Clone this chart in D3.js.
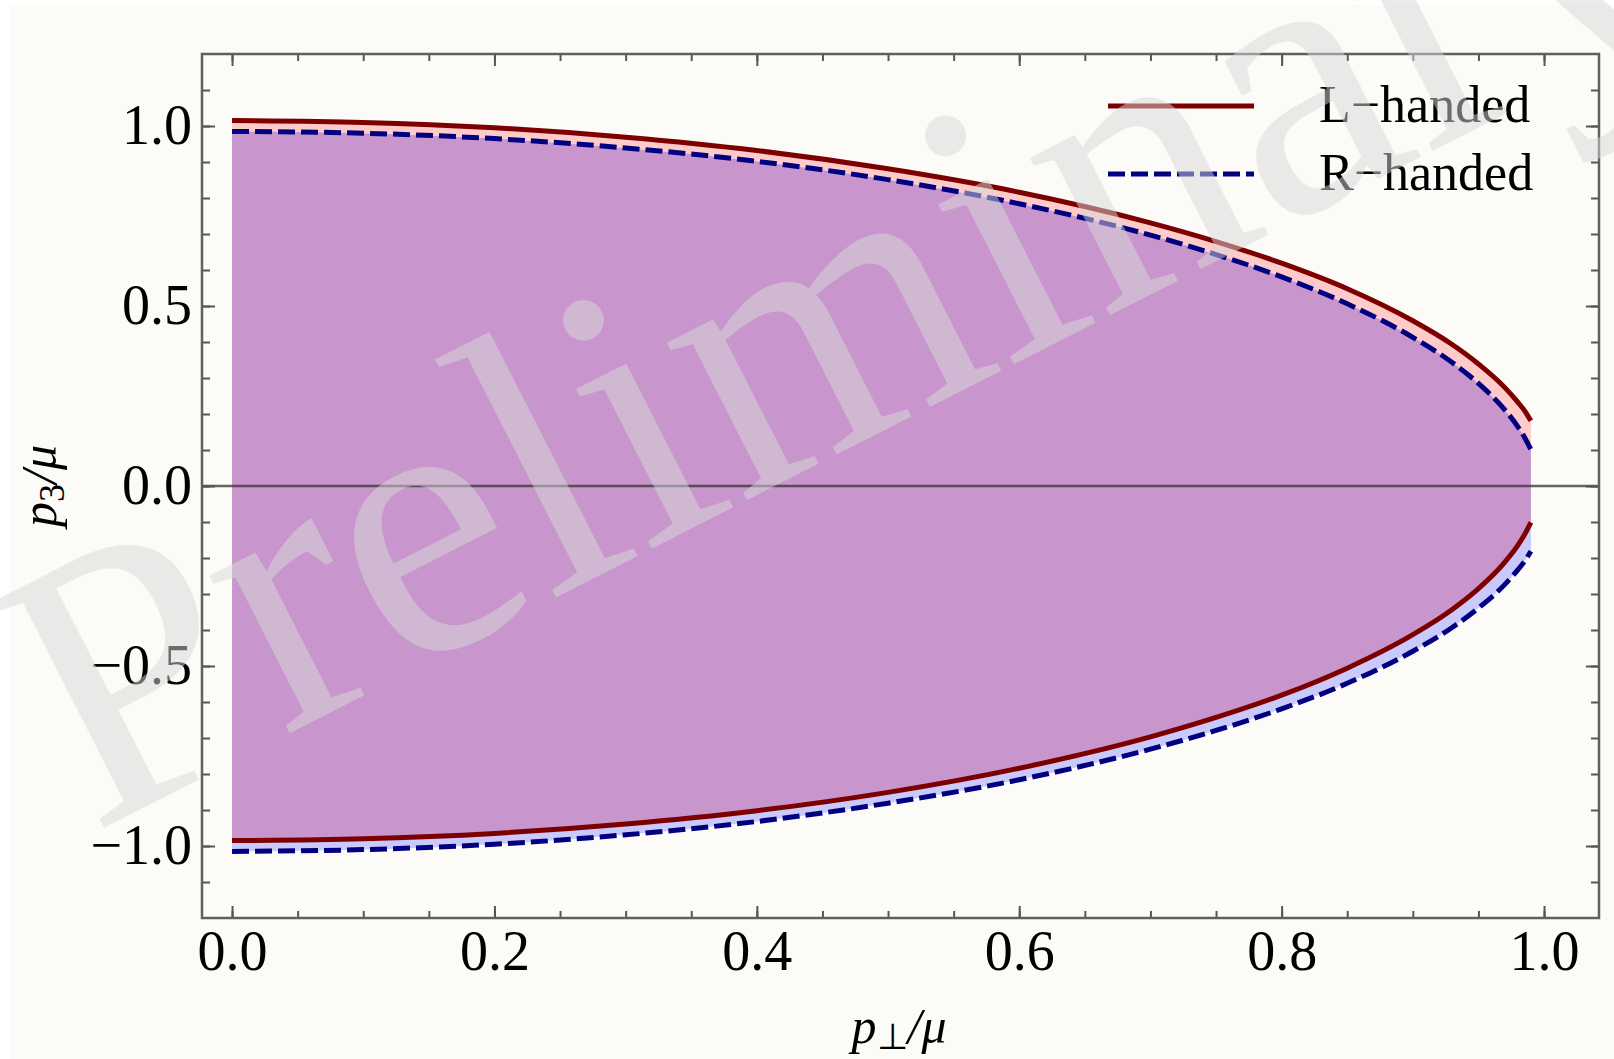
<!DOCTYPE html>
<html>
<head>
<meta charset="utf-8">
<script src="https://cdn.jsdelivr.net/npm/d3@7"></script>
<style>
  body { margin: 0; background: #ffffff; }
  svg { display: block; }
  text { font-family: "Liberation Serif", "Times New Roman", serif; }
</style>
</head>
<body>
<svg id="svg" width="1614" height="1059"></svg>
<script>
// values
const pPerp      = [0, 0.1, 0.2, 0.3, 0.4, 0.5, 0.6, 0.7, 0.75, 0.8, 0.85, 0.9, 0.93, 0.95, 0.97, 0.98, 0.985, 0.99]
const leftUpper  = [1.015, 1.010, 0.995, 0.969, 0.932, 0.881, 0.816, 0.731, 0.679, 0.619, 0.548, 0.459, 0.393, 0.339, 0.274, 0.233, 0.210, 0.181]
const leftLower  = [-0.985, -0.980, -0.965, -0.939, -0.902, -0.851, -0.784, -0.697, -0.643, -0.581, -0.506, -0.413, -0.343, -0.285, -0.212, -0.165, -0.136, -0.101]
const rightUpper = [0.985, 0.980, 0.965, 0.939, 0.902, 0.851, 0.784, 0.697, 0.643, 0.581, 0.506, 0.413, 0.343, 0.285, 0.212, 0.165, 0.136, 0.101]
const rightLower = [-1.015, -1.010, -0.995, -0.969, -0.932, -0.881, -0.816, -0.731, -0.679, -0.619, -0.548, -0.459, -0.393, -0.339, -0.274, -0.233, -0.210, -0.181]

const xMajor = [0, 0.2, 0.4, 0.6, 0.8, 1.0]
const xMinor = d3.range(0, 1.001, 0.05)
const yMajor = [-1.0, -0.5, 0.0, 0.5, 1.0]
const yMinor = d3.range(-1.1, 1.101, 0.1)

const legendNames = ['L\u2212handed', 'R\u2212handed']

let svg = d3.select('#svg')

let plotLeft = 202, plotRight = 1599, plotTop = 54, plotBottom = 918

let x = d3.scaleLinear().domain([-0.0229, 1.0419]).range([plotLeft, plotRight])
let y = d3.scaleLinear().domain([-1.2, 1.2]).range([plotBottom, plotTop])

let rows = pPerp.map((p, i) => ({
  p: p, lu: leftUpper[i], ll: leftLower[i], ru: rightUpper[i], rl: rightLower[i]
}))

svg.append('rect')
  .attr('x', 10).attr('y', 5).attr('width', 1604).attr('height', 1054)
  .attr('fill', '#fdfbf8')

// filled regions
let band = (lo, hi) => d3.area()
  .curve(d3.curveMonotoneX)
  .x(d => x(d.p))
  .y0(d => y(d[lo]))
  .y1(d => y(d[hi]))

svg.append('path').datum(rows).attr('d', band('ru', 'lu')).attr('fill', '#ffcaca')
svg.append('path').datum(rows).attr('d', band('rl', 'll')).attr('fill', '#c9c9fb')
svg.append('path').datum(rows).attr('d', band('ll', 'ru')).attr('fill', '#c896cc')

// zero line
svg.append('line')
  .attr('x1', plotLeft).attr('x2', plotRight)
  .attr('y1', y(0)).attr('y2', y(0))
  .attr('stroke', '#333').attr('stroke-opacity', 0.75).attr('stroke-width', 2.5)

// curves
let line = key => d3.line()
  .curve(d3.curveMonotoneX)
  .x(d => x(d.p))
  .y(d => y(d[key]))

let solidStyle = sel => sel.attr('fill', 'none').attr('stroke', '#7d0000').attr('stroke-width', 5)
let dashStyle = sel => sel.attr('fill', 'none').attr('stroke', '#000080').attr('stroke-width', 5)
  .attr('stroke-dasharray', '17,6')

svg.append('path').datum(rows).attr('d', line('lu')).call(solidStyle)
svg.append('path').datum(rows).attr('d', line('ll')).call(solidStyle)
svg.append('path').datum(rows).attr('d', line('ru')).call(dashStyle)
svg.append('path').datum(rows).attr('d', line('rl')).call(dashStyle)

// axes, ticks pointing inward
let styleAxis = g => {
  g.select('.domain').remove()
  g.selectAll('.tick line').attr('stroke', '#555').attr('stroke-width', 2)
  g.selectAll('text').attr('font-size', 56).attr('fill', '#000')
    .attr('font-family', '"Liberation Serif", serif')
}
let fmt = d3.format('.1f')

svg.append('g').attr('transform', `translate(0,${plotBottom})`)
  .call(d3.axisBottom(x).tickValues(xMinor).tickSize(-7).tickFormat(''))
  .call(styleAxis)
svg.append('g').attr('transform', `translate(0,${plotBottom})`)
  .call(d3.axisBottom(x).tickValues(xMajor).tickSize(-12).tickPadding(12).tickFormat(fmt))
  .call(styleAxis)
svg.append('g').attr('transform', `translate(0,${plotTop})`)
  .call(d3.axisTop(x).tickValues(xMinor).tickSize(-7).tickFormat(''))
  .call(styleAxis)
svg.append('g').attr('transform', `translate(0,${plotTop})`)
  .call(d3.axisTop(x).tickValues(xMajor).tickSize(-12).tickFormat(''))
  .call(styleAxis)

svg.append('g').attr('transform', `translate(${plotLeft},0)`)
  .call(d3.axisLeft(y).tickValues(yMinor).tickSize(-8).tickFormat(''))
  .call(styleAxis)
svg.append('g').attr('transform', `translate(${plotLeft},0)`)
  .call(d3.axisLeft(y).tickValues(yMajor).tickSize(-13).tickPadding(10).tickFormat(fmt))
  .call(styleAxis)
svg.append('g').attr('transform', `translate(${plotRight},0)`)
  .call(d3.axisRight(y).tickValues(yMinor).tickSize(-8).tickFormat(''))
  .call(styleAxis)
svg.append('g').attr('transform', `translate(${plotRight},0)`)
  .call(d3.axisRight(y).tickValues(yMajor).tickSize(-13).tickFormat(''))
  .call(styleAxis)

// frame
svg.append('rect')
  .attr('x', plotLeft).attr('y', plotTop)
  .attr('width', plotRight - plotLeft).attr('height', plotBottom - plotTop)
  .attr('fill', 'none').attr('stroke', '#5f5f5f').attr('stroke-width', 2.5)

// axis titles
let xTitle = svg.append('text')
  .attr('x', 899).attr('y', 1043)
  .attr('text-anchor', 'middle')
  .attr('font-size', 50).attr('font-style', 'italic')
xTitle.append('tspan').text('p')
xTitle.append('tspan').attr('font-size', 36).attr('font-style', 'normal').attr('dy', 6).text('\u22A5')
xTitle.append('tspan').attr('dy', -6).text('/\u03BC')

let yTitle = svg.append('text')
  .attr('transform', 'translate(56,486) rotate(-90)')
  .attr('text-anchor', 'middle')
  .attr('font-size', 50).attr('font-style', 'italic')
yTitle.append('tspan').text('p')
yTitle.append('tspan').attr('font-size', 36).attr('font-style', 'normal').attr('dy', 8).text('3')
yTitle.append('tspan').attr('dy', -8).text('/\u03BC')

// legend samples
let legend = svg.append('g')
legendNames.forEach((name, i) => {
  let ly = 106 + i * 68
  legend.append('line')
    .attr('x1', 1108).attr('x2', 1254).attr('y1', ly).attr('y2', ly)
    .call(i === 0 ? solidStyle : dashStyle)
})

// watermark over the plot
svg.append('text')
  .attr('transform', 'translate(92,834) rotate(-27)')
  .attr('font-size', 385)
  .attr('fill', '#d8d8d8').attr('fill-opacity', 0.5)
  .text('Preliminary')

// legend labels
legendNames.forEach((name, i) => {
  legend.append('text')
    .attr('x', 1319).attr('y', 122 + i * 68)
    .attr('font-size', 52).attr('fill', '#000')
    .text(name)
})
</script>
</body>
</html>
